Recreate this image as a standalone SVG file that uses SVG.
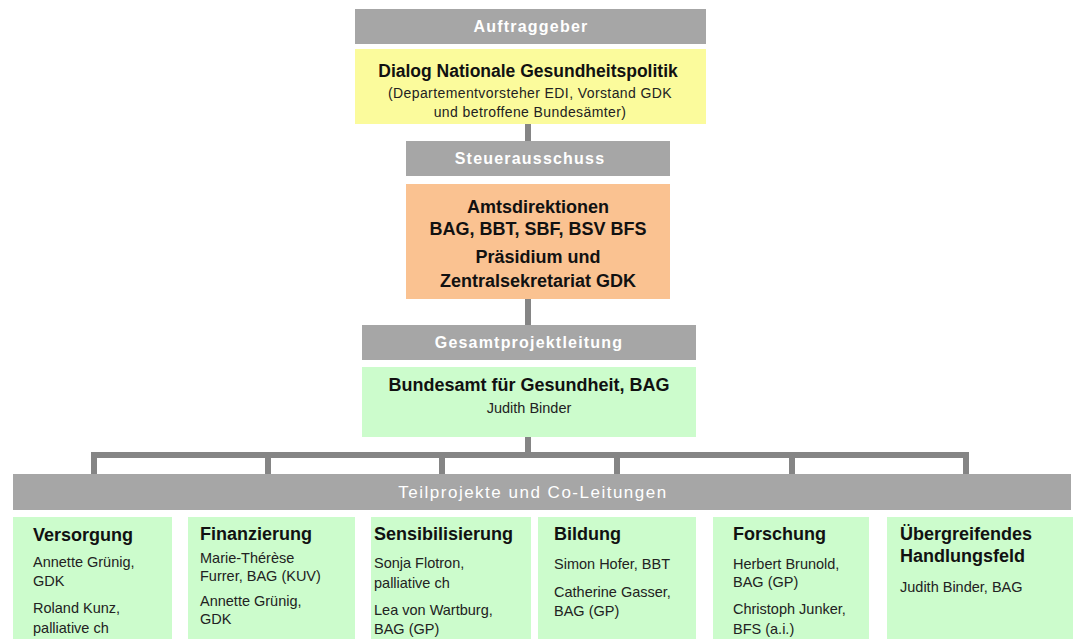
<svg xmlns="http://www.w3.org/2000/svg" width="1074" height="639" viewBox="0 0 1074 639">
<style>
.hdr{fill:#a6a6a6}
.hdrt{font-family:"Liberation Sans",Arial,sans-serif;font-size:16px;font-weight:bold;fill:#ffffff;text-anchor:middle;letter-spacing:1.2px}
.teil{font-family:"Liberation Sans",Arial,sans-serif;font-size:17px;fill:#ffffff;text-anchor:middle;letter-spacing:1.5px}
.green{fill:#ccfccc}
.yellow{fill:#fbfb9c}
.orange{fill:#fac291}
.bt{font-family:"Liberation Sans",Arial,sans-serif;font-weight:bold;fill:#111111}
.c{text-anchor:middle}
.b18{font-size:18px}
.sm{font-family:"Liberation Sans",Arial,sans-serif;font-size:14px;fill:#222222;letter-spacing:0.4px}
.body{font-family:"Liberation Sans",Arial,sans-serif;font-size:14.5px;fill:#222222}
.conn{fill:none;stroke:#858585;stroke-width:6}
</style>
<rect width="1074" height="639" fill="#ffffff"/>
<g id="connectors">
<line class="conn" x1="528" y1="124" x2="528" y2="141"/>
<line class="conn" x1="528" y1="299" x2="528" y2="325"/>
<line class="conn" x1="528" y1="437" x2="528" y2="455"/>
<path class="conn" d="M94,474 V455 H966 V474"/>
<line class="conn" x1="268" y1="455" x2="268" y2="474"/>
<line class="conn" x1="442" y1="455" x2="442" y2="474"/>
<line class="conn" x1="617" y1="455" x2="617" y2="474"/>
<line class="conn" x1="792" y1="455" x2="792" y2="474"/>
</g>
<g id="auftraggeber">
<rect class="hdr" x="355" y="9" width="351" height="35"/>
<text class="hdrt" x="531" y="32">Auftraggeber</text>
</g>
<g id="dialog">
<rect class="yellow" x="355" y="49" width="351" height="75"/>
<text class="bt c" x="528" y="77" font-size="17.5px">Dialog Nationale Gesundheitspolitik</text>
<text class="sm c" x="530" y="98">(Departementvorsteher EDI, Vorstand GDK</text>
<text class="sm c" x="530" y="117">und betroffene Bundesämter)</text>
</g>
<g id="steuerausschuss">
<rect class="hdr" x="406" y="141" width="264" height="35"/>
<text class="hdrt" x="530" y="164">Steuerausschuss</text>
</g>
<g id="amtsdirektionen">
<rect class="orange" x="406" y="184" width="264" height="115"/>
<text class="bt c b18" x="538" y="213">Amtsdirektionen</text>
<text class="bt c b18" x="538" y="235">BAG, BBT, SBF, BSV BFS</text>
<text class="bt c b18" x="538" y="263">Präsidium und</text>
<text class="bt c b18" x="538" y="287">Zentralsekretariat GDK</text>
</g>
<g id="gesamtprojektleitung">
<rect class="hdr" x="362" y="325" width="334" height="35"/>
<text class="hdrt" x="529" y="348">Gesamtprojektleitung</text>
</g>
<g id="bag">
<rect class="green" x="362" y="367" width="334" height="70"/>
<text class="bt c b18" x="529" y="391">Bundesamt für Gesundheit, BAG</text>
<text class="body c" x="529" y="413">Judith Binder</text>
</g>
<g id="teilprojekte">
<rect class="hdr" x="13" y="474" width="1058" height="36"/>
<text class="teil" x="533" y="498">Teilprojekte und Co-Leitungen</text>
</g>
<g id="versorgung">
<rect class="green" x="13" y="517" width="159" height="122"/>
<text class="bt b18" x="33" y="541">Versorgung</text>
<text class="body" x="33" y="567">Annette Grünig,</text>
<text class="body" x="33" y="586">GDK</text>
<text class="body" x="33" y="613">Roland Kunz,</text>
<text class="body" x="33" y="633">palliative ch</text>
</g>
<g id="finanzierung">
<rect class="green" x="188" y="517" width="167" height="122"/>
<text class="bt b18" x="200" y="540">Finanzierung</text>
<text class="body" x="200" y="563">Marie-Thérèse</text>
<text class="body" x="200" y="581">Furrer, BAG (KUV)</text>
<text class="body" x="200" y="606">Annette Grünig,</text>
<text class="body" x="200" y="624">GDK</text>
</g>
<g id="sensibilisierung">
<rect class="green" x="371" y="517" width="160" height="122"/>
<text class="bt b18" x="374" y="540">Sensibilisierung</text>
<text class="body" x="374" y="568">Sonja Flotron,</text>
<text class="body" x="374" y="588">palliative ch</text>
<text class="body" x="374" y="615">Lea von Wartburg,</text>
<text class="body" x="374" y="634">BAG (GP)</text>
</g>
<g id="bildung">
<rect class="green" x="538" y="517" width="158" height="122"/>
<text class="bt b18" x="554" y="540">Bildung</text>
<text class="body" x="554" y="569">Simon Hofer, BBT</text>
<text class="body" x="554" y="597">Catherine Gasser,</text>
<text class="body" x="554" y="616">BAG (GP)</text>
</g>
<g id="forschung">
<rect class="green" x="713" y="517" width="156" height="122"/>
<text class="bt b18" x="733" y="540">Forschung</text>
<text class="body" x="733" y="569">Herbert Brunold,</text>
<text class="body" x="733" y="587">BAG (GP)</text>
<text class="body" x="733" y="614">Christoph Junker,</text>
<text class="body" x="733" y="634">BFS (a.i.)</text>
</g>
<g id="uebergreifendes">
<rect class="green" x="887" y="517" width="186" height="122"/>
<text class="bt b18" x="900" y="540">Übergreifendes</text>
<text class="bt b18" x="900" y="562">Handlungsfeld</text>
<text class="body" x="900" y="592">Judith Binder, BAG</text>
</g>
</svg>
